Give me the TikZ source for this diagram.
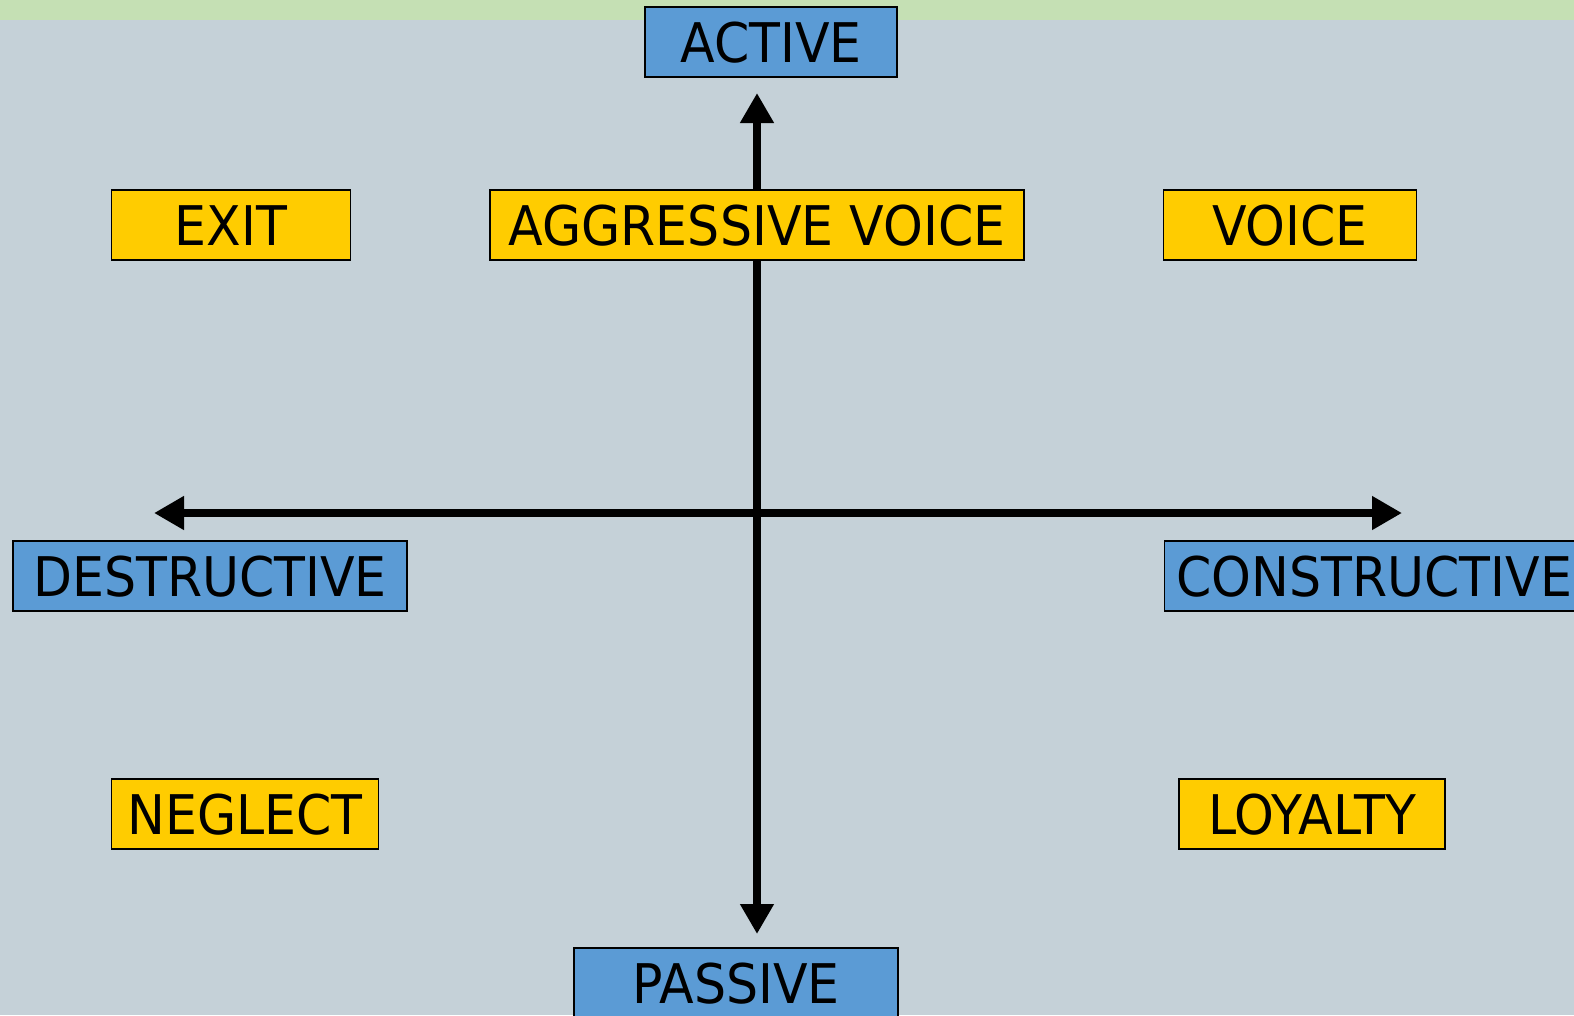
\documentclass[tikz,border=0pt]{standalone}
\usepackage{fontspec}
\setmainfont[FakeStretch=0.925]{DejaVu Sans}
\usepackage{tikz}
\usetikzlibrary{positioning,arrows.meta}
\definecolor{bgcol}{HTML}{C5D1D8}
\definecolor{bandcol}{HTML}{C5E0B4}
\definecolor{dimcol}{HTML}{5B9BD5}
\definecolor{respcol}{HTML}{FFCC00}

\begin{document}
\begin{tikzpicture}[
    x=0.75pt, y=-0.75pt,
    every node/.style={font=\fontsize{41}{46}\selectfont},
    dim/.style={draw, line width=0.8pt, fill=dimcol, inner sep=0pt, minimum height=52.5pt, text height=30pt, text depth=0pt},
    resp/.style={draw, line width=0.8pt, fill=respcol, inner sep=0pt, minimum height=52.5pt, text height=30pt, text depth=0pt},
    axis/.style={line width=6pt, -{Triangle[length=22.5pt,width=24pt]}}
]
\useasboundingbox (0,0) rectangle (1574,1015);
\fill[bgcol] (0,0) rectangle (1574,1015);
\fill[bandcol] (0,0) rectangle (1574,20);

% axes
\coordinate (o) at (757,513);
\coordinate (top) at (757,93);
\coordinate (bot) at (757,934);
\coordinate (lft) at (154,513);
\coordinate (rgt) at (1402,513);
\draw[axis] (o) -- (top);
\draw[axis] (o) -- (bot);
\draw[axis] (o) -- (lft);
\draw[axis] (o) -- (rgt);

% dimensions
\node[dim, minimum width=189pt] (active) at (771,42) {ACTIVE};
\node[dim, minimum width=243pt] (passive) at (736,983) {PASSIVE};
\node[dim, minimum width=295.5pt] (destr) at (210,576) {DESTRUCTIVE};
\node[dim, minimum width=322.5pt, anchor=west, align=left, inner xsep=9pt, text width=304.5pt] (constr) at (1164,576) {CONSTRUCTIVE};

% responses
\node[resp, minimum width=179.25pt] (exit) at (231,225) {EXIT};
\node[resp, minimum width=400.5pt] (aggvoice) at (757,225) {AGGRESSIVE VOICE};
\node[resp, minimum width=189.75pt] (voice) at (1290,225) {VOICE};
\node[resp, minimum width=200.25pt] (neglect) at (245,814) {NEGLECT};
\node[resp, minimum width=199.5pt] (loyalty) at (1312,814) {LOYALTY};
\end{tikzpicture}
\end{document}
